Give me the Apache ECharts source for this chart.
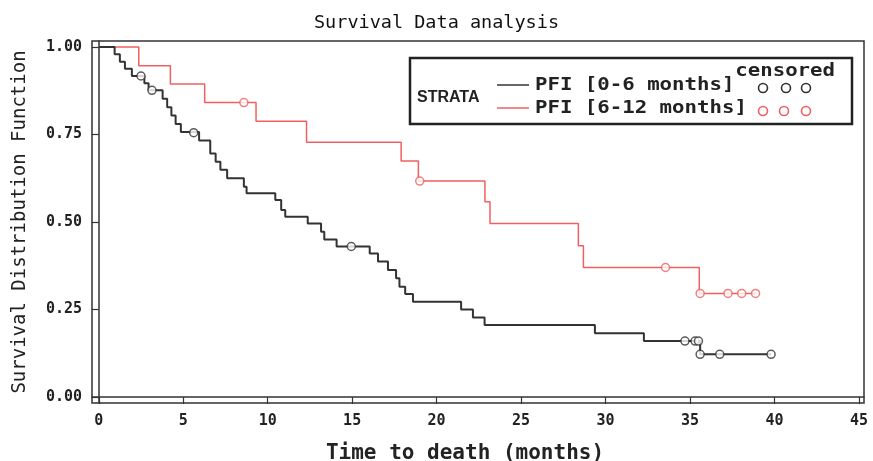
<!DOCTYPE html>
<html>
<head>
<meta charset="utf-8">
<script src="https://cdn.jsdelivr.net/npm/echarts@6/dist/echarts.min.js"></script>
<style>
  html, body { margin: 0; padding: 0; background: #fff; }
  #container { width: 873px; height: 461px; }
</style>
</head>
<body>
<div id="container"></div>
<script>
// step points: time of drop -> survival after drop
var blackTimes = [0, 0.94, 1.25, 1.55, 1.96, 2.7, 2.95, 3.78, 4.05, 4.3, 4.55, 4.86, 5.94, 6.6, 6.92, 7.2, 7.6, 8.59, 8.75,
    10.45, 10.8, 11.04, 12.37, 13.16, 13.35, 14.08, 16.04, 16.53, 17.12, 17.6, 17.8, 18.14, 18.6, 21.45, 22.15, 22.84,
    29.37, 32.27, 35.6, 39.8];
var blackSurv = [1.0, 0.979, 0.958, 0.938, 0.917, 0.896, 0.876, 0.852, 0.828, 0.804, 0.78, 0.757, 0.733, 0.696, 0.672, 0.649, 0.625, 0.601, 0.582,
    0.563, 0.534, 0.515, 0.496, 0.472, 0.45, 0.43, 0.41, 0.387, 0.363, 0.339, 0.315, 0.294, 0.272, 0.25, 0.227, 0.206,
    0.182, 0.16, 0.122, 0.122];
var blackCensTimes = [2.5, 3.15, 5.62, 14.95, 34.7, 35.3, 35.5, 35.6, 36.76, 39.8];
var blackCensSurv = [0.917, 0.876, 0.755, 0.43, 0.16, 0.16, 0.16, 0.122, 0.122, 0.122];

var redTimes = [0, 2.37, 4.24, 6.27, 9.31, 12.3, 17.9, 18.92, 22.86, 23.16, 28.39, 28.69, 35.55, 38.88];
var redSurv = [1.0, 0.946, 0.894, 0.841, 0.788, 0.728, 0.674, 0.617, 0.558, 0.496, 0.432, 0.37, 0.296, 0.296];
var redCensTimes = [8.59, 19.0, 33.55, 35.6, 37.25, 38.06, 38.88];
var redCensSurv = [0.841, 0.617, 0.37, 0.296, 0.296, 0.296, 0.296];

var xTicks = [0, 5, 10, 15, 20, 25, 30, 35, 40, 45];
var yTicks = [0, 0.25, 0.5, 0.75, 1.0];
var strataNames = ["PFI [0-6 months]", "PFI [6-12 months]"];

var BLACK = "#333333";
var RED = "#f06060";
var MONO = "DejaVu Sans Mono";

function pairs(xs, ys) {
    var out = [];
    for (var i = 0; i < xs.length; i++) {
        out.push([xs[i], ys[i]]);
    }
    return out;
}

function legendGraphics() {
    var g = [];
    var rows = [{ y: 85, color: BLACK, name: strataNames[0], cx: [763, 786, 806] },
                { y: 108, color: RED, name: strataNames[1], cx: [763, 784, 806] }];
    g.push({ type: "rect", shape: { x: 410, y: 58, width: 442, height: 66 },
             style: { fill: "#fff", stroke: "#222", lineWidth: 2.5 }, z: 100 });
    g.push({ type: "text", x: 417, y: 98, z: 101,
             style: { text: "STRATA", font: "bold 16px 'Liberation Sans'", fill: "#222", verticalAlign: "middle" } });
    g.push({ type: "text", x: 835, y: 71, z: 101, scaleX: 1.15,
             style: { text: "censored", font: "bold 18px '" + MONO + "'", fill: "#222", align: "right", verticalAlign: "middle" } });
    rows.forEach(function (r) {
        g.push({ type: "line", z: 101, shape: { x1: 497, y1: r.y, x2: 529, y2: r.y },
                 style: { stroke: r.color, lineWidth: 1.5 } });
        g.push({ type: "text", x: 535, y: r.y, z: 101, scaleX: 1.15,
                 style: { text: r.name, font: "bold 18px '" + MONO + "'", fill: "#222", verticalAlign: "middle" } });
        r.cx.forEach(function (cx) {
            g.push({ type: "circle", z: 101, shape: { cx: cx, cy: r.y + 3, r: 4.5 },
                     style: { fill: "none", stroke: r.color, lineWidth: 1.6 } });
        });
    });
    return g;
}

var dom = document.getElementById("container");
var myChart = echarts.init(dom, null, { renderer: "canvas" });

var option = {
    animation: false,
    backgroundColor: "#fff",
    title: {
        text: "Survival Data analysis",
        left: "center",
        top: 9,
        textStyle: { fontFamily: MONO, fontSize: 18.5, fontWeight: "normal", color: "#111" }
    },
    grid: {
        left: 92, right: 9, top: 41, bottom: 58,
        outerBoundsMode: "none",
        containLabel: false,
        show: true, borderColor: "#333", borderWidth: 1.5
    },
    xAxis: {
        type: "value",
        min: -0.4,
        max: 45.3,
        name: "Time to death (months)",
        nameLocation: "middle",
        nameGap: 40,
        nameTextStyle: { fontFamily: MONO, fontSize: 21, fontWeight: "bold", color: "#222", padding: [0, 26, 0, 0] },
        axisLine: { lineStyle: { color: "#333", width: 1.5 } },
        axisTick: { show: true, length: 7, lineStyle: { color: "#333", width: 1.2 }, customValues: xTicks },
        axisLabel: { customValues: xTicks, margin: 11, fontFamily: MONO, fontSize: 15, fontWeight: "bold", color: "#222" },
        splitLine: { show: false }
    },
    yAxis: {
        type: "value",
        min: -0.017,
        max: 1.017,
        name: "Survival Distribution Function",
        nameLocation: "middle",
        nameGap: 62,
        nameTextStyle: { fontFamily: MONO, fontSize: 19, fontWeight: "normal", color: "#222" },
        axisLine: { lineStyle: { color: "#333", width: 1.5 } },
        axisTick: { show: true, length: 7, lineStyle: { color: "#333", width: 1.2 }, customValues: yTicks },
        axisLabel: {
            customValues: yTicks, margin: 10, fontFamily: MONO, fontSize: 15, fontWeight: "bold", color: "#222",
            formatter: function (v) { return v.toFixed(2); }
        },
        splitLine: { show: false }
    },
    series: [
        {
            name: strataNames[0], type: "line", step: "end", showSymbol: false,
            data: pairs(blackTimes, blackSurv),
            lineStyle: { color: BLACK, width: 2 }, z: 3
        },
        {
            name: strataNames[1], type: "line", step: "end", showSymbol: false,
            data: pairs(redTimes, redSurv),
            lineStyle: { color: RED, width: 1.5 }, z: 2
        },
        {
            name: "censored black", type: "scatter", symbol: "circle", symbolSize: 8,
            data: pairs(blackCensTimes, blackCensSurv),
            itemStyle: { color: "#fff", borderColor: BLACK, borderWidth: 1.5 }, z: 5
        },
        {
            name: "censored red", type: "scatter", symbol: "circle", symbolSize: 8,
            data: pairs(redCensTimes, redCensSurv),
            itemStyle: { color: "#fff", borderColor: RED, borderWidth: 1.5 }, z: 4
        }
    ],
    graphic: legendGraphics()
};
myChart.setOption(option);
</script>
</body>
</html>
